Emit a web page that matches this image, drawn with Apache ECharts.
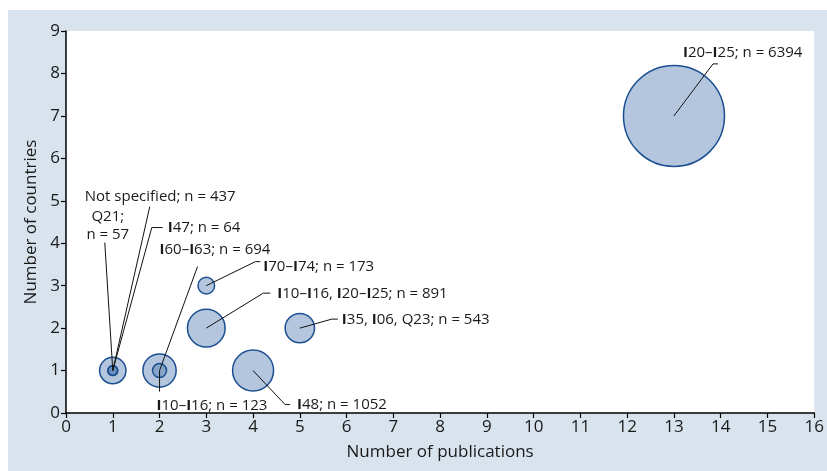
<!DOCTYPE html>
<html>
<head>
<meta charset="utf-8">
<script src="https://cdn.jsdelivr.net/npm/echarts@6/dist/echarts.min.js"></script>
<style>
html,body{margin:0;padding:0;background:#fff;}
#bg{position:absolute;left:8px;top:10px;width:819px;height:461px;background:#d8e3ed;}
#chart{position:absolute;left:0;top:0;width:827px;height:471px;}
</style>
</head>
<body>
<div id="bg"></div>
<div id="chart"></div>
<script>
// ---- data ----
const publications = [13, 4, 3, 2, 5, 1, 3, 2, 1, 1];
const countries    = [7, 1, 2, 1, 2, 1, 3, 1, 1, 1];
const nValues      = [6394, 1052, 891, 694, 543, 437, 173, 123, 64, 57];
const labels = [
  'I20–I25; n = 6394',
  'I48; n = 1052',
  'I10–I16, I20–I25; n = 891',
  'I60–I63; n = 694',
  'I35, I06, Q23; n = 543',
  'Not specified; n = 437',
  'I70–I74; n = 173',
  'I10–I16; n = 123',
  'I47; n = 64',
  'Q21;\nn = 57'
];
const xTicks = [0,1,2,3,4,5,6,7,8,9,10,11,12,13,14,15,16];
const yTicks = [0,1,2,3,4,5,6,7,8,9];

// ---- annotation layout (pixel offsets from bubble centre) ----
const annoLayout = [
  {line: [[39,-52],[44,-52]], text: [9,-63], align: 'left'},
  {line: [[32,34],[37,34]], text: [44,34], align: 'left'},
  {line: [[57,-35],[64,-35]], text: [71,-34], align: 'left'},
  {line: [[38,-104]], text: [0,-121], align: 'left'},
  {line: [[32,-9],[38,-9]], text: [42,-8], align: 'left'},
  {line: [[37,-164]], text: [-28,-174], align: 'left'},
  {line: [[49,-24],[54,-24]], text: [57,-19], align: 'left'},
  {line: [[0,21]], text: [-3,35], align: 'left'},
  {line: [[39,-143],[50,-143]], text: [55,-143], align: 'left'},
  {line: [[-8,-128]], text: [-5,-145], align: 'center'}
];

const FONT = '"Open Sans", "Noto Sans", sans-serif';
const scatterData = publications.map((x, i) => [x, countries[i], nValues[i]]);
const annoData = publications.map((x, i) => [x, countries[i], i]);

function richLabel(s) {
  return s.replace(/I(?=\d)/g, '{b|I}');
}

const chart = echarts.init(document.getElementById('chart'));
chart.setOption({
  animation: false,
  grid: {left: 66, right: 12, top: 31, bottom: 58, show: true, backgroundColor: '#ffffff', borderWidth: 0},
  xAxis: {
    type: 'value', min: xTicks[0], max: xTicks[xTicks.length-1], interval: 1,
    name: 'Number of publications', nameLocation: 'middle', nameGap: 31,
    nameTextStyle: {fontFamily: FONT, fontSize: 17, color: '#1a1a1a'},
    axisLine: {lineStyle: {color: '#000', width: 1.5}},
    axisTick: {lineStyle: {color: '#000', width: 1.2}, length: 5},
    axisLabel: {fontFamily: FONT, fontSize: 17, color: '#1a1a1a', margin: 6},
    splitLine: {show: false}
  },
  yAxis: {
    type: 'value', min: yTicks[0], max: yTicks[yTicks.length-1], interval: 1,
    name: 'Number of countries', nameLocation: 'middle', nameGap: 26, nameRotate: 90,
    nameTextStyle: {fontFamily: FONT, fontSize: 17, color: '#1a1a1a'},
    axisLine: {show: true, lineStyle: {color: '#000', width: 1.5}},
    axisTick: {show: true, lineStyle: {color: '#000', width: 1.2}, length: 5},
    axisLabel: {fontFamily: FONT, fontSize: 17, color: '#1a1a1a', margin: 6},
    splitLine: {show: false}
  },
  series: [
    {
      type: 'scatter',
      data: scatterData,
      symbol: 'circle',
      symbolSize: v => 1.263 * Math.sqrt(v[2]),
      itemStyle: {color: 'rgba(65,112,170,0.4)', borderColor: '#1c4f91', borderWidth: 1.5, opacity: 1},
      emphasis: {disabled: true},
      z: 2
    },
    {
      type: 'custom',
      data: annoData,
      z: 5,
      silent: true,
      renderItem: function (params, api) {
        const c = api.coord([api.value(0), api.value(1)]);
        const idx = api.value(2);
        const L = annoLayout[idx];
        const pts = [[c[0], c[1]]].concat(L.line.map(p => [c[0] + p[0], c[1] + p[1]]));
        return {
          type: 'group',
          children: [
            {type: 'polyline', shape: {points: pts}, style: {stroke: '#111', lineWidth: 1, fill: null}},
            {type: 'text', x: c[0] + L.text[0], y: c[1] + L.text[1],
             style: {text: richLabel(labels[idx]), fontFamily: FONT, fontSize: 15, fill: '#1a1a1a',
                     align: L.align, verticalAlign: 'middle', lineHeight: 18,
                     rich: {b: {fontFamily: FONT, fontSize: 15, fontWeight: 'bold', fill: '#1a1a1a'}}}}
          ]
        };
      }
    }
  ]
});
</script>
</body>
</html>
